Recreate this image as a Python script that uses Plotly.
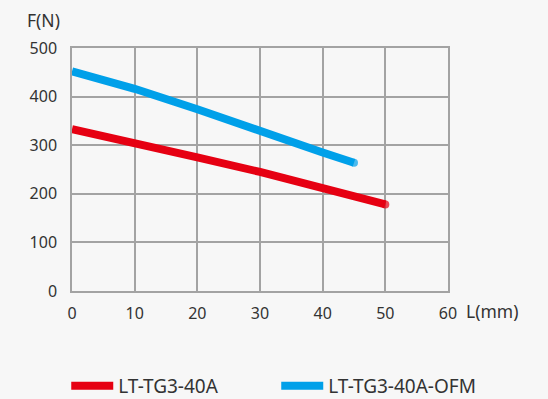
import plotly.graph_objects as go

x_red = [0, 10, 20, 30, 40, 50]
y_red = [333, 306, 275, 245, 213, 178]
x_blue = [0, 10, 20, 30, 40, 45]
y_blue = [452, 416, 374, 328, 285, 264]
names = ["LT-TG3-40A", "LT-TG3-40A-OFM"]
colors = ["#e60012", "#00a0e9"]
x_ticks = [0, 10, 20, 30, 40, 50, 60]
y_ticks = [0, 100, 200, 300, 400, 500]

FONT = "Noto Sans"
TXT = "#333333"
GRID = "#a3a3a3"
BG = "#f7f7f7"

fig = go.Figure()
for xs, ys, name, col in [(x_red, y_red, names[0], colors[0]), (x_blue, y_blue, names[1], colors[1])]:
    fig.add_trace(go.Scatter(
        x=xs, y=ys, name=name, mode="lines+markers",
        line=dict(color=col, width=8),
        marker=dict(color=col, size=[0] * (len(xs) - 1) + [8], line=dict(width=0)),
    ))

fig.update_layout(
    width=548, height=399,
    margin=dict(l=72, r=100, t=48, b=108, autoexpand=False),
    paper_bgcolor=BG, plot_bgcolor=BG,
    font=dict(family=FONT, size=16, color=TXT),
    showlegend=True,
    legend=dict(
        orientation="h", xref="paper", yref="paper",
        x=-0.002 - 5 / 376, y=(291 - 386) / 243, xanchor="left", yanchor="middle",
        font=dict(size=19, color=TXT), entrywidth=153, entrywidthmode="pixels",
        itemwidth=42,
        bgcolor="rgba(0,0,0,0)", itemclick=False,
    ),
    xaxis=dict(range=[0, 60], tickvals=x_ticks, showgrid=True, gridcolor=GRID, gridwidth=1.5,
               showline=True, mirror=True, linecolor=GRID, linewidth=1.5, zeroline=False,
               ticks="", ticklabelstandoff=7, fixedrange=True, automargin=False),
    yaxis=dict(range=[0, 500], tickvals=y_ticks, showgrid=True, gridcolor=GRID, gridwidth=1.5,
               showline=True, mirror=True, linecolor=GRID, linewidth=1.5, zeroline=False,
               ticks="", ticklabelstandoff=10, fixedrange=True, automargin=False),
    annotations=[
        dict(text="F(N)", xref="paper", yref="paper", x=0, y=1, xshift=-10, yshift=28,
             xanchor="right", yanchor="middle", showarrow=False, font=dict(size=17.5, color=TXT)),
        dict(text="L(mm)", xref="paper", yref="paper", x=1, y=0, xshift=16, yshift=-20,
             xanchor="left", yanchor="middle", showarrow=False, font=dict(size=17.5, color=TXT)),
    ],
)

fig.write_html(
    "out.html",
    config={"displayModeBar": False},
    post_script="document.body.style.margin='0';document.body.style.background='" + BG + "';",
)
